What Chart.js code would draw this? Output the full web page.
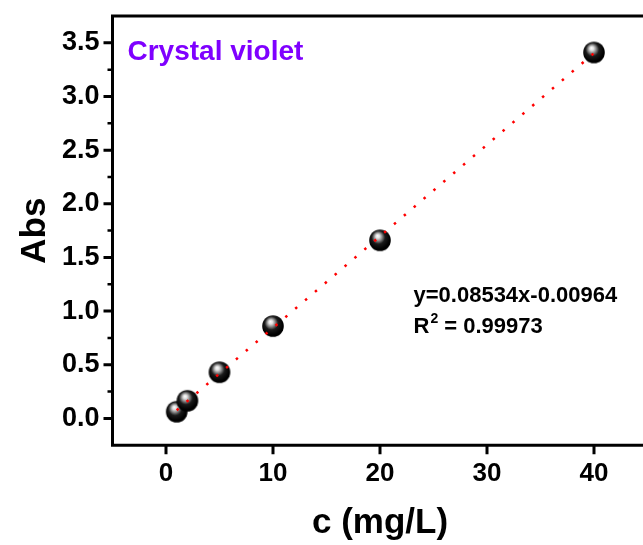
<!DOCTYPE html>
<html>
<head>
<meta charset="utf-8">
<script src="https://cdn.jsdelivr.net/npm/chart.js@4/dist/chart.umd.min.js"></script>
<style>
  html, body { margin: 0; padding: 0; background: #fff; overflow: hidden; width: 643px; height: 545px; }
  canvas { display: block; }
</style>
</head>
<body>
<canvas id="c" width="660" height="545"></canvas>
<script>
// ---- data ----
const concentration = [1, 2, 5, 10, 20, 40];            // c (mg/L)
const absorbance    = [0.062, 0.164, 0.43, 0.86, 1.66, 3.41];
const fitX = [1, 40];                                     // fitted line end points
const fitY = [0.076, 3.404];
const xTickValues = [0, 10, 20, 30, 40];
const yTickValues = [0, 0.5, 1.0, 1.5, 2.0, 2.5, 3.0, 3.5];
const yMinorValues = [0.25, 0.75, 1.25, 1.75, 2.25, 2.75, 3.25];
const labelText = 'Crystal violet';
const equationText = 'y=0.08534x-0.00964';
const r2Value = '0.99973';

const FONT = '"Liberation Sans", Arial, Helvetica, sans-serif';

// sphere marker
function makeSphere() {
  const s = 24, c = document.createElement('canvas');
  c.width = s; c.height = s;
  const g = c.getContext('2d');
  const cx = s / 2, cy = s / 2, r = 10.8;
  const grad = g.createRadialGradient(cx - 2.5, cy - 4.5, 0, cx - 1, cy - 2, r);
  grad.addColorStop(0, '#ffffff');
  grad.addColorStop(0.18, '#e2e2e2');
  grad.addColorStop(0.38, '#8a8a8a');
  grad.addColorStop(0.62, '#1a1a1a');
  grad.addColorStop(1, '#000000');
  g.fillStyle = grad;
  g.beginPath(); g.arc(cx, cy, r, 0, Math.PI * 2); g.fill();
  return c;
}
const sphere = makeSphere();

const framePlugin = {
  id: 'frame',
  afterDraw(chart) {
    const ctx = chart.ctx, a = chart.chartArea;
    const xs = chart.scales.x, ys = chart.scales.y;
    ctx.save();
    ctx.strokeStyle = '#000';
    ctx.lineWidth = 3;
    ctx.lineCap = 'butt';
    ctx.beginPath();
    ctx.moveTo(a.left, a.top - 1.5); ctx.lineTo(a.left, a.bottom + 1.5);
    ctx.moveTo(a.left - 1.5, a.bottom); ctx.lineTo(a.right + 1.5, a.bottom);
    ctx.moveTo(a.left - 1.5, a.top); ctx.lineTo(a.right + 1.5, a.top);
    ctx.moveTo(a.right, a.top - 1.5); ctx.lineTo(a.right, a.bottom + 1.5);
    ctx.stroke();
    // major ticks
    ctx.beginPath();
    yTickValues.forEach(v => { const p = ys.getPixelForValue(v); ctx.moveTo(a.left - 9, p); ctx.lineTo(a.left, p); });
    xTickValues.forEach(v => { const p = xs.getPixelForValue(v); ctx.moveTo(p, a.bottom); ctx.lineTo(p, a.bottom + 9); });
    ctx.stroke();
    // minor ticks
    ctx.lineWidth = 2.5;
    ctx.beginPath();
    yMinorValues.forEach(v => { const p = ys.getPixelForValue(v); ctx.moveTo(a.left - 5, p); ctx.lineTo(a.left, p); });
    ctx.stroke();
    // annotations
    ctx.textBaseline = 'alphabetic';
    ctx.textAlign = 'left';
    ctx.fillStyle = '#7f00ff';
    ctx.font = 'bold 28px ' + FONT;
    ctx.fillText(labelText, a.left + 15, a.top + 44);
    ctx.fillStyle = '#000';
    ctx.font = 'bold 22px ' + FONT;
    const ex = a.left + 301;
    ctx.fillText(equationText, ex, 301.5);
    ctx.fillText('R', ex, 333);
    const rw = ctx.measureText('R').width;
    ctx.font = 'bold 14px ' + FONT;
    ctx.fillText('2', ex + rw + 1, 323);
    const w2 = ctx.measureText('2').width;
    ctx.font = 'bold 22px ' + FONT;
    ctx.fillText(' = ' + r2Value, ex + rw + 1 + w2, 333);
    ctx.restore();
  }
};

const xTickFont = { family: FONT, size: 26, weight: 'bold' };
const yTickFont = { family: FONT, size: 27, weight: 'bold' };
const titleFont = { family: FONT, size: 35, weight: 'bold', lineHeight: 1 };

new Chart(document.getElementById('c'), {
  type: 'scatter',
  data: {
    datasets: [
      {
        type: 'line',
        data: fitX.map((x, i) => ({ x: x, y: fitY[i] })),
        borderColor: '#ff0000',
        borderWidth: 2.5,
        borderDash: [2.5, 10.5],
        pointRadius: 0,
        fill: false,
        order: 0
      },
      {
        data: concentration.map((x, i) => ({ x: x, y: absorbance[i] })),
        pointStyle: sphere,
        pointRadius: 11,
        order: 1
      }
    ]
  },
  options: {
    responsive: false,
    animation: false,
    events: [],
    layout: { padding: { left: 0, right: 12.5, top: 16, bottom: 0 } },
    plugins: { legend: { display: false }, tooltip: { enabled: false } },
    scales: {
      x: {
        type: 'linear', min: -5, max: 45,
        grid: { display: false, drawTicks: false },
        border: { display: false },
        afterBuildTicks: s => { s.ticks = xTickValues.map(v => ({ value: v })); },
        afterFit: s => { s.height = 99.8; s.paddingLeft = 0; s.paddingRight = 0; },
        ticks: { font: xTickFont, color: '#000', padding: 13, maxRotation: 0, autoSkip: false, callback: v => String(v) },
        title: { display: true, text: 'c (mg/L)', font: titleFont, color: '#000', padding: { top: 0, bottom: 4 } }
      },
      y: {
        type: 'linear', min: -0.25, max: 3.75,
        grid: { display: false, drawTicks: false },
        border: { display: false },
        afterBuildTicks: s => { s.ticks = yTickValues.map(v => ({ value: v })); },
        afterFit: s => { s.width = 112.5; s.paddingTop = 0; s.paddingBottom = 0; },
        ticks: { font: yTickFont, color: '#000', padding: 13, autoSkip: false, callback: v => Number(v).toFixed(1) },
        title: { display: true, text: 'Abs', font: titleFont, color: '#000', padding: { top: 18, bottom: 0 } }
      }
    }
  },
  plugins: [framePlugin]
});
</script>
</body>
</html>
